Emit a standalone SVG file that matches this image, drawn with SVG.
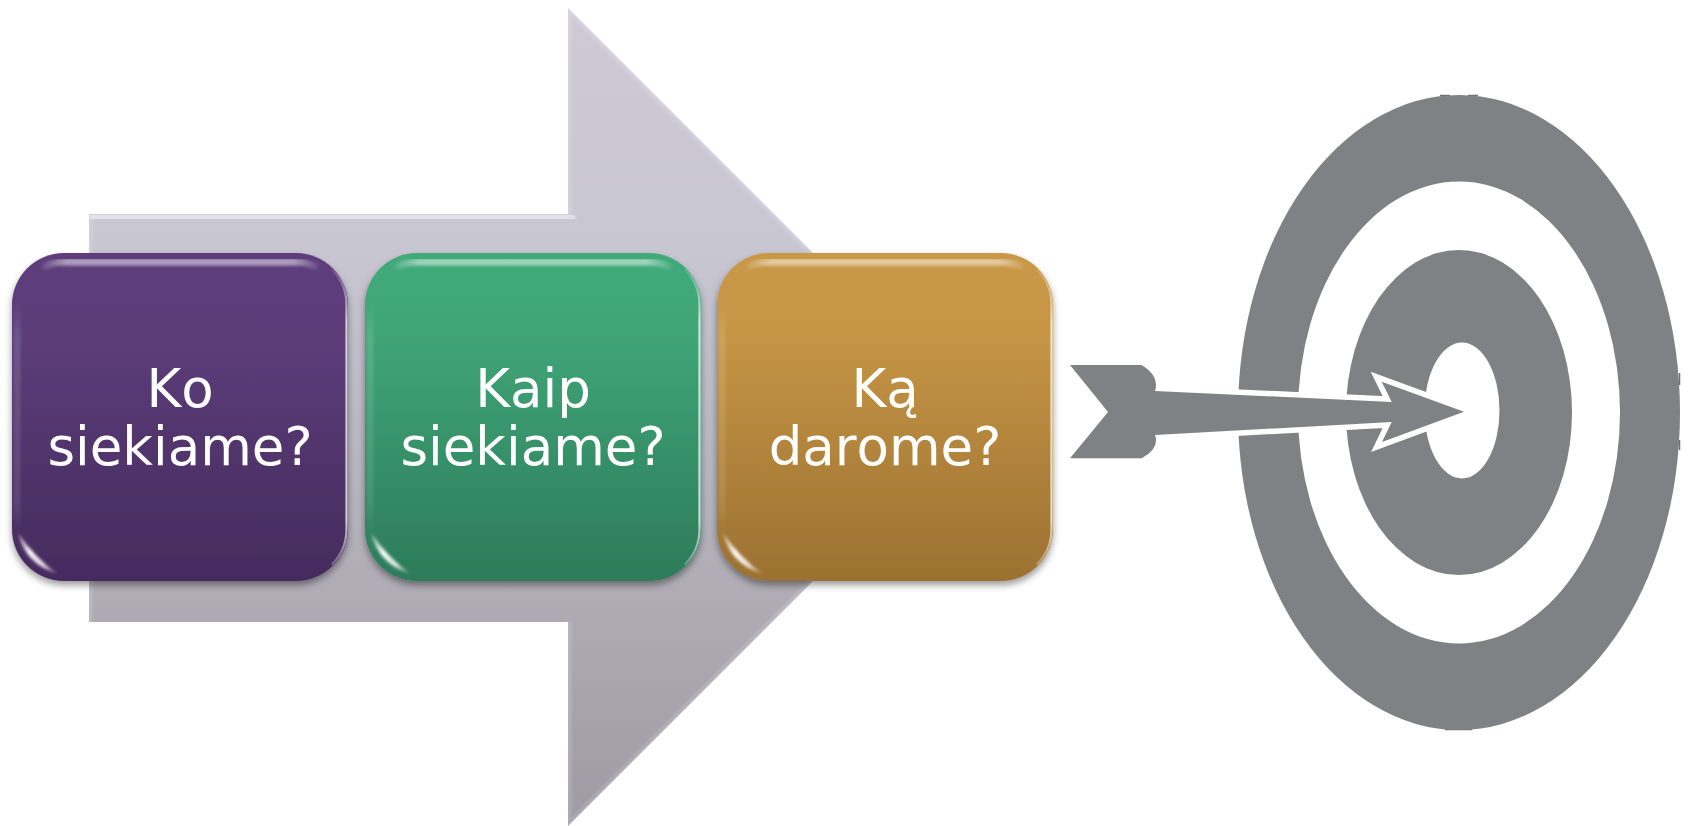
<svg xmlns="http://www.w3.org/2000/svg" xmlns:xlink="http://www.w3.org/1999/xlink" width="1688" height="826" viewBox="0 0 1688 826">
<style>
.label{font-family:"DejaVu Sans","Liberation Sans",sans-serif;font-size:53px;fill:#fff;text-anchor:middle;font-kerning:none}
.grey{fill:#808184}
.hole{fill:#fff}
.mark{stroke:#4a4a4d;stroke-width:1.5;stroke-opacity:.8;fill:none}
</style>
<defs>
<linearGradient id="gArrow" x1="0" y1="0" x2="0" y2="1"><stop offset="0" stop-color="#cdcad6"/><stop offset=".3" stop-color="#c8c6d1"/><stop offset="1" stop-color="#9d9aa2"/></linearGradient>
<linearGradient id="gPurple" x1="0" y1="0" x2="0" y2="1"><stop offset="0" stop-color="#5d3e7b"/><stop offset=".25" stop-color="#5c3d7a"/><stop offset="1" stop-color="#452b5d"/></linearGradient>
<linearGradient id="gGreen" x1="0" y1="0" x2="0" y2="1"><stop offset="0" stop-color="#41aa7a"/><stop offset=".25" stop-color="#3fa577"/><stop offset="1" stop-color="#2d7b5a"/></linearGradient>
<linearGradient id="gGold" x1="0" y1="0" x2="0" y2="1"><stop offset="0" stop-color="#c99847"/><stop offset=".25" stop-color="#c69545"/><stop offset="1" stop-color="#9b7132"/></linearGradient>
<linearGradient id="hFade" gradientUnits="userSpaceOnUse" x1="26" y1="0" x2="310" y2="0"><stop offset="0" stop-color="#fff" stop-opacity="0"/><stop offset=".1" stop-color="#fff" stop-opacity=".5"/><stop offset=".9" stop-color="#fff" stop-opacity=".5"/><stop offset="1" stop-color="#fff" stop-opacity="0"/></linearGradient>
<linearGradient id="vFade" gradientUnits="userSpaceOnUse" x1="0" y1="16" x2="0" y2="312"><stop offset="0" stop-color="#fff" stop-opacity=".1"/><stop offset=".18" stop-color="#fff" stop-opacity=".75"/><stop offset=".85" stop-color="#fff" stop-opacity=".75"/><stop offset="1" stop-color="#fff" stop-opacity=".25"/></linearGradient>
<linearGradient id="vSoft" x1="0" y1="0" x2="0" y2="1"><stop offset="0" stop-color="#fff" stop-opacity="0"/><stop offset=".15" stop-color="#fff" stop-opacity=".13"/><stop offset=".85" stop-color="#fff" stop-opacity=".1"/><stop offset="1" stop-color="#fff" stop-opacity="0"/></linearGradient>
<linearGradient id="cFade" gradientUnits="userSpaceOnUse" x1="5" y1="278" x2="48" y2="322"><stop offset="0" stop-color="#fff" stop-opacity=".3"/><stop offset=".4" stop-color="#fff" stop-opacity=".95"/><stop offset=".7" stop-color="#fff" stop-opacity=".8"/><stop offset="1" stop-color="#fff" stop-opacity="0"/></linearGradient>
<filter id="shadow" x="-10%" y="-10%" width="120%" height="120%"><feDropShadow dx="0" dy="4" stdDeviation="3.5" flood-color="#000" flood-opacity=".4"/></filter>
<filter id="soft" x="-20%" y="-50%" width="140%" height="200%"><feGaussianBlur stdDeviation="1.4"/></filter>
<filter id="softer" x="-20%" y="-50%" width="140%" height="200%"><feGaussianBlur stdDeviation=".7"/></filter>
<clipPath id="boxClip"><rect x="0" y="0" width="336" height="328" rx="52" ry="52"/></clipPath>
<clipPath id="arrowClip"><path d="M89,214H568V8L977,417L568,826V622H89Z"/></clipPath>
<g id="gloss" clip-path="url(#boxClip)">
<path d="M30,15Q38,9 54,9H282Q298,9 306,15" fill="none" stroke="url(#hFade)" stroke-width="7" filter="url(#soft)"/>
<rect x="1.5" y="50" width="7" height="230" fill="url(#vSoft)" filter="url(#soft)"/>
<path d="M319.7,16.3A50.5,50.5 0 0 1 334.5,52V276A50.5,50.5 0 0 1 319.7,311.7" fill="none" stroke="url(#vFade)" stroke-width="2.2"/>
<path d="M6,280Q14,312 46,321Q24,306 6,280Z" fill="url(#cFade)" filter="url(#soft)"/>
</g>
</defs>

<g id="big-arrow">
<path d="M89,214H568V8L977,417L568,826V622H89Z" fill="url(#gArrow)"/>
<g clip-path="url(#arrowClip)">
<path d="M89,622V214H568V8L977,417L568,826V622" fill="none" stroke="#fff" stroke-opacity=".16" stroke-width="7" filter="url(#soft)"/>
<path d="M90,215H574L577,219H90Z" fill="#fff" fill-opacity=".42" filter="url(#softer)"/>
</g>
</g>

<g id="target">
<path class="mark" d="M1440,95.5H1450M1468,95.5H1478M1445,729.5H1472M1679.5,373V385M1679.5,440V450"/>
<ellipse class="grey" cx="1459" cy="412.5" rx="221" ry="317.5"/>
<ellipse class="hole" cx="1459" cy="412.5" rx="161" ry="231"/>
<ellipse class="grey" cx="1459" cy="412.5" rx="113" ry="162.5"/>
<ellipse class="hole" cx="1462" cy="410.5" rx="37.5" ry="68"/>
</g>

<g id="dart">
<path class="grey" stroke="#fff" stroke-width="11" stroke-miterlimit="6" paint-order="stroke" d="M1070,365H1141.7Q1160,376 1155,391L1391.7,402L1381.7,381.7L1464,411.7L1382,442L1391.7,422L1155,435Q1160,448 1141.7,458.3H1070L1108,412Z"/>
</g>

<g id="box-ko">
<rect x="12" y="253" width="336" height="328" rx="52" ry="52" fill="url(#gPurple)" filter="url(#shadow)"/>
<use xlink:href="#gloss" href="#gloss" transform="translate(12,253)"/>
<text class="label" x="180" y="406.5">Ko</text>
<text class="label" x="180" y="465">siekiame?</text>
</g>
<g id="box-kaip">
<rect x="365" y="253" width="336" height="328" rx="52" ry="52" fill="url(#gGreen)" filter="url(#shadow)"/>
<use xlink:href="#gloss" href="#gloss" transform="translate(365,253)"/>
<text class="label" x="533" y="406.5">Kaip</text>
<text class="label" x="533" y="465">siekiame?</text>
</g>
<g id="box-ka">
<rect x="717" y="253" width="336" height="328" rx="52" ry="52" fill="url(#gGold)" filter="url(#shadow)"/>
<use xlink:href="#gloss" href="#gloss" transform="translate(717,253)"/>
<text class="label" x="885" y="406.5">Ką</text>
<text class="label" x="885" y="465">darome?</text>
</g>
</svg>
